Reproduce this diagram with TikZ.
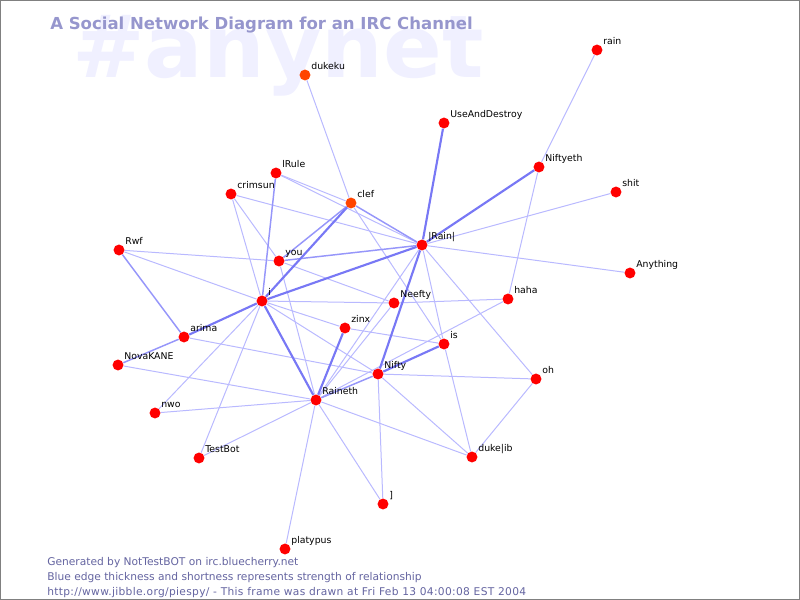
\documentclass[tikz,border=0pt]{standalone}
\usepackage{fontspec}
\setmainfont{DejaVu Sans}
\usetikzlibrary{backgrounds}

\definecolor{nickred}{RGB}{255,0,0}
\definecolor{nickhot}{RGB}{255,68,0}
\definecolor{edgelo}{RGB}{185,185,255}
\definecolor{edgemid}{RGB}{150,150,250}
\definecolor{edgehi}{RGB}{120,120,245}
\definecolor{titleblue}{RGB}{150,150,205}
\definecolor{ghost}{RGB}{240,240,255}
\definecolor{footblue}{RGB}{100,100,160}
\definecolor{framegray}{RGB}{128,128,128}

\begin{document}
\begin{tikzpicture}[
		x=0.75pt,y=-0.75pt,
		nick/.style={circle,fill=nickred,inner sep=0pt,minimum size=8.2pt,
			label={[nicklbl]north east:#1}},
		hotnick/.style={nick=#1,fill=nickhot},
		nicklbl/.style={anchor=base west,inner sep=0pt,xshift=1.5pt,yshift=0.8pt,
			font=\fontsize{7}{8}\selectfont},
		footline/.style={anchor=base west,inner sep=0pt,text=footblue,
			font=\fontsize{8}{9}\selectfont},
		lo/.style={draw=edgelo,line width=0.75pt},
		mid/.style={draw=edgemid,line width=1.1pt},
		hi/.style={draw=edgehi,line width=1.6pt}
		]
		\useasboundingbox (0,0) rectangle (800,600);
		\draw[framegray,line width=1.1pt] (0.75,0.75) rectangle (799.25,599.25);
		\begin{scope}[on background layer]
			\node[anchor=base west,inner sep=0pt,text=ghost,
				font=\fontsize{65}{65}\bfseries\selectfont] (channel) at (72,77) {\#anynet};
		\end{scope}
		\node[anchor=base west,inner sep=0pt,text=titleblue,
			font=\fontsize{12.4}{14}\bfseries\selectfont] (title) at (50,29)
			{A Social Network Diagram for an IRC Channel};
		% nicks
		\node[nick=rain] (rain) at (597,50) {};
		\node[hotnick=dukeku] (dukeku) at (305,75) {};
		\node[nick=UseAndDestroy] (udestroy) at (444,123) {};
		\node[nick=Niftyeth] (niftyeth) at (539,167) {};
		\node[nick=lRule] (lrule) at (276,173) {};
		\node[nick=shit] (shit) at (616,192) {};
		\node[nick=crimsun] (crimsun) at (231,194) {};
		\node[hotnick=clef] (clef) at (351,203) {};
		\node[nick=|Rain|] (rainbar) at (422,245) {};
		\node[nick=Rwf] (rwf) at (119,250) {};
		\node[nick=you] (you) at (279,261) {};
		\node[nick=Anything] (anything) at (630,273) {};
		\node[nick=i] (i) at (262,301) {};
		\node[nick=Neefty] (neefty) at (394,303) {};
		\node[nick=haha] (haha) at (508,299) {};
		\node[nick=zinx] (zinx) at (345,328) {};
		\node[nick=arima] (arima) at (184,337) {};
		\node[nick=is] (is) at (444,344) {};
		\node[nick=NovaKANE] (novakane) at (118,365) {};
		\node[nick=Nifty] (nifty) at (378,374) {};
		\node[nick=oh] (oh) at (536,379) {};
		\node[nick=Raineth] (raineth) at (316,400) {};
		\node[nick=nwo] (nwo) at (155,413) {};
		\node[nick=TestBot] (testbot) at (199,458) {};
		\node[nick=duke|ib] (dukejib) at (472,457) {};
		\node[nick={]}] (bracket) at (383,504) {};
		\node[nick=platypus] (platypus) at (285,549) {};
		% links
		\begin{scope}[on background layer]
			\path[lo]
			(rain) edge (niftyeth)
			(dukeku) edge (clef)
			(niftyeth) edge (haha)
			(shit) edge (rainbar)
			(anything) edge (rainbar)
			(oh) edge (rainbar)
			(rainbar) edge (is)
			(is) edge (dukejib)
			(rainbar) edge (raineth)
			(crimsun) edge (rainbar)
			(lrule) edge (rainbar)
			(lrule) edge (clef)
			(crimsun) edge (i)
			(crimsun) edge (you)
			(rwf) edge (you)
			(rwf) edge (i)
			(you) edge (raineth)
			(you) edge (neefty)
			(i) edge (neefty)
			(neefty) edge (haha)
			(neefty) edge (raineth)
			(clef) edge (is)
			(i) edge (zinx)
			(zinx) edge (is)
			(i) edge (nifty)
			(arima) edge (nifty)
			(novakane) edge (raineth)
			(nwo) edge (i)
			(nwo) edge (raineth)
			(testbot) edge (i)
			(testbot) edge (raineth)
			(platypus) edge (raineth)
			(bracket) edge (raineth)
			(bracket) edge (nifty)
			(nifty) edge (oh)
			(nifty) edge (dukejib)
			(raineth) edge (dukejib)
			(oh) edge (dukejib)
			(haha) edge (raineth);
			\path[mid]
			(rwf) edge (arima)
			(lrule) edge (i)
			(you) edge (rainbar)
			(nifty) edge (raineth)
			(clef) edge (rainbar)
			(arima) edge (novakane)
			(clef) edge (you);
			\path[hi]
			(udestroy) edge (rainbar)
			(i) edge (rainbar)
			(rainbar) edge (nifty)
			(zinx) edge (raineth)
			(i) edge (raineth)
			(i) edge (arima)
			(clef) edge (i)
			(is) edge (nifty)
			(niftyeth) edge (rainbar);
		\end{scope}
		% footer
		\node[footline] (gen) at (47,565) {Generated by NotTestBOT on irc.bluecherry.net};
		\node[footline] (legend) at (47,580) {Blue edge thickness and shortness represents strength of relationship};
		\node[footline] (stamp) at (47,595) {\addfontfeatures{LetterSpace=3}http://www.jibble.org/piespy/ - This frame was drawn at Fri Feb 13 04:00:08 EST 2004};
	\end{tikzpicture}
\end{document}
